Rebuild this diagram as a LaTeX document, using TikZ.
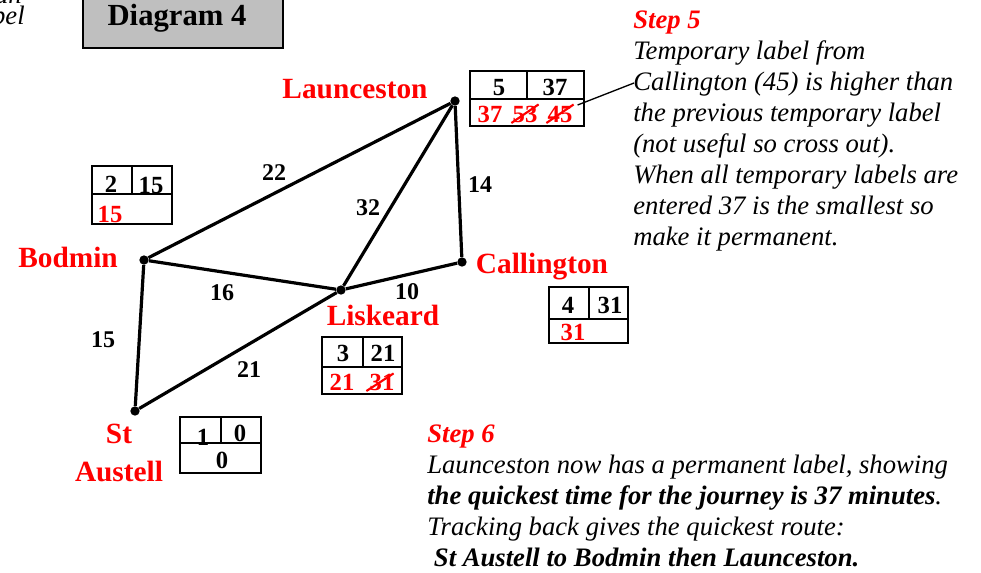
\documentclass[tikz,border=0pt]{standalone}
\usepackage{fontspec}
\setmainfont{Liberation Serif}
\usetikzlibrary{positioning, calc}

\begin{document}
\begin{tikzpicture}[x=0.75pt, y=-0.75pt,
    town/.style={text=red, font=\fontsize{22}{24}\selectfont\bfseries, inner sep=0pt, anchor=base},
    dot/.style={circle, fill, inner sep=0pt, minimum size=7pt},
    road/.style={line width=2.4pt},
    wt/.style={font=\fontsize{18}{20}\selectfont\bfseries, inner sep=0pt, anchor=base},
    box/.style={line width=1pt},
    num/.style={font=\fontsize{18.5}{20}\selectfont\bfseries, inner sep=0pt, anchor=base},
    tmp/.style={num, text=red},
    cross/.style={red, line width=1.6pt},
    note/.style={align=left, font=\fontsize{20}{23.2}\selectfont\itshape, inner sep=0pt, anchor=north west}
]
\useasboundingbox (0,0) rectangle (981,572);

% cut-off text at the edge
\node[note, anchor=base east] (cuta) at (22,3) {an};
\node[note, anchor=base east] (cutb) at (25,24) {bel};

% title
\draw[box, fill=black!25] (83,-10) rectangle (283,48);
\node[font=\fontsize{23}{25}\selectfont\bfseries] (title) at (177,18) {Diagram 4};

% towns
\node[dot] (laun) at (455,101) {};
\node[dot] (bod) at (144,260) {};
\node[dot] (lisk) at (341,290) {};
\node[dot] (call) at (462,262) {};
\node[dot] (staus) at (135,411) {};

\node[town] (launname) at (355,98) {Launceston};
\node[town] (bodname) at (68,267) {Bodmin};
\node[town] (callname) at (542,273) {Callington};
\node[town] (liskname) at (383,325) {Liskeard};
\node[town] (stname) at (119,443) {St};
\node[town] (ausname) at (119,481) {Austell};

% roads
\draw[road] (laun) -- (bod);
\draw[road] (laun) -- (lisk);
\draw[road] (laun) -- (call);
\draw[road] (bod) -- (lisk);
\draw[road] (lisk) -- (call);
\draw[road] (bod) -- (staus);
\draw[road] (staus) -- (lisk);

\node[wt] (w22) at (274,180) {22};
\node[wt] (w32) at (368,215) {32};
\node[wt] (w14) at (480,192) {14};
\node[wt] (w16) at (222,300) {16};
\node[wt] (w10) at (407,299) {10};
\node[wt] (w15) at (103,347) {15};
\node[wt] (w21) at (249,377) {21};

% label boxes
\draw[box] (470,71) rectangle (584,126) (470,99) -- (584,99) (527,71) -- (527,99);
\node[num] (l5) at (499,95) {5};
\node[num] (l37) at (555,95) {37};
\node[tmp] (t37) at (490,122) {37};
\node[tmp] (t53) at (525,122) {53};
\node[tmp] (t45) at (560,122) {45};
\draw[cross] ($(t53.base west)+(-1,1)$) -- ($(t53.north east)+(1,-1)$);
\draw[cross] ($(t45.base west)+(-1,1)$) -- ($(t45.north east)+(1,-1)$);

\draw[box] (92,166) rectangle (172,224) (92,194) -- (172,194) (132,166) -- (132,194);
\node[num] (b2) at (111,192) {2};
\node[num] (b15) at (151,193) {15};
\node[tmp] (tb15) at (110,222) {15};

\draw[box] (322,337) rectangle (402,394) (322,367) -- (402,367) (363,337) -- (363,367);
\node[num] (k3) at (343,361) {3};
\node[num] (k21) at (383,361) {21};
\node[tmp] (tk21) at (342,390) {21};
\node[tmp] (tk31) at (382,390) {31};
\draw[cross] ($(tk31.base west)+(-3,1)$) -- ($(tk31.north east)+(-1,0)$);

\draw[box] (180,417) rectangle (261,473) (180,443) -- (261,443) (221,417) -- (221,443);
\node[num] (s1) at (203,445) {1};
\node[num] (s0) at (240,441) {0};
\node[num] (ts0) at (222,468) {0};

\draw[box] (549,287) rectangle (628,343) (549,319) -- (628,319) (589,287) -- (589,319);
\node[num] (c4) at (568,313) {4};
\node[num] (c31) at (610,313) {31};
\node[tmp] (tc31) at (573,340) {31};

% notes
\node[note] (step5) at (633,11) {{\color{red}\bfseries Step 5}\\
Temporary label from\\
Callington (45) is higher than\\
the previous temporary label\\
(not useful so cross out).\\
When all temporary labels are\\
entered 37 is the smallest so\\
make it permanent.};
\coordinate (c5) at (634,83);
\draw[line width=1pt] (t45.east) ++(5,-9) -- (c5);

\node[note] (step6) at (427,425) {{\color{red}\bfseries Step 6}\\
Launceston now has a permanent label, showing\\
\textbf{the quickest time for the journey is 37 minutes}.\\
Tracking back gives the quickest route:\\
\hspace*{5pt}\textbf{St Austell to Bodmin then Launceston.}};
\end{tikzpicture}
\end{document}
